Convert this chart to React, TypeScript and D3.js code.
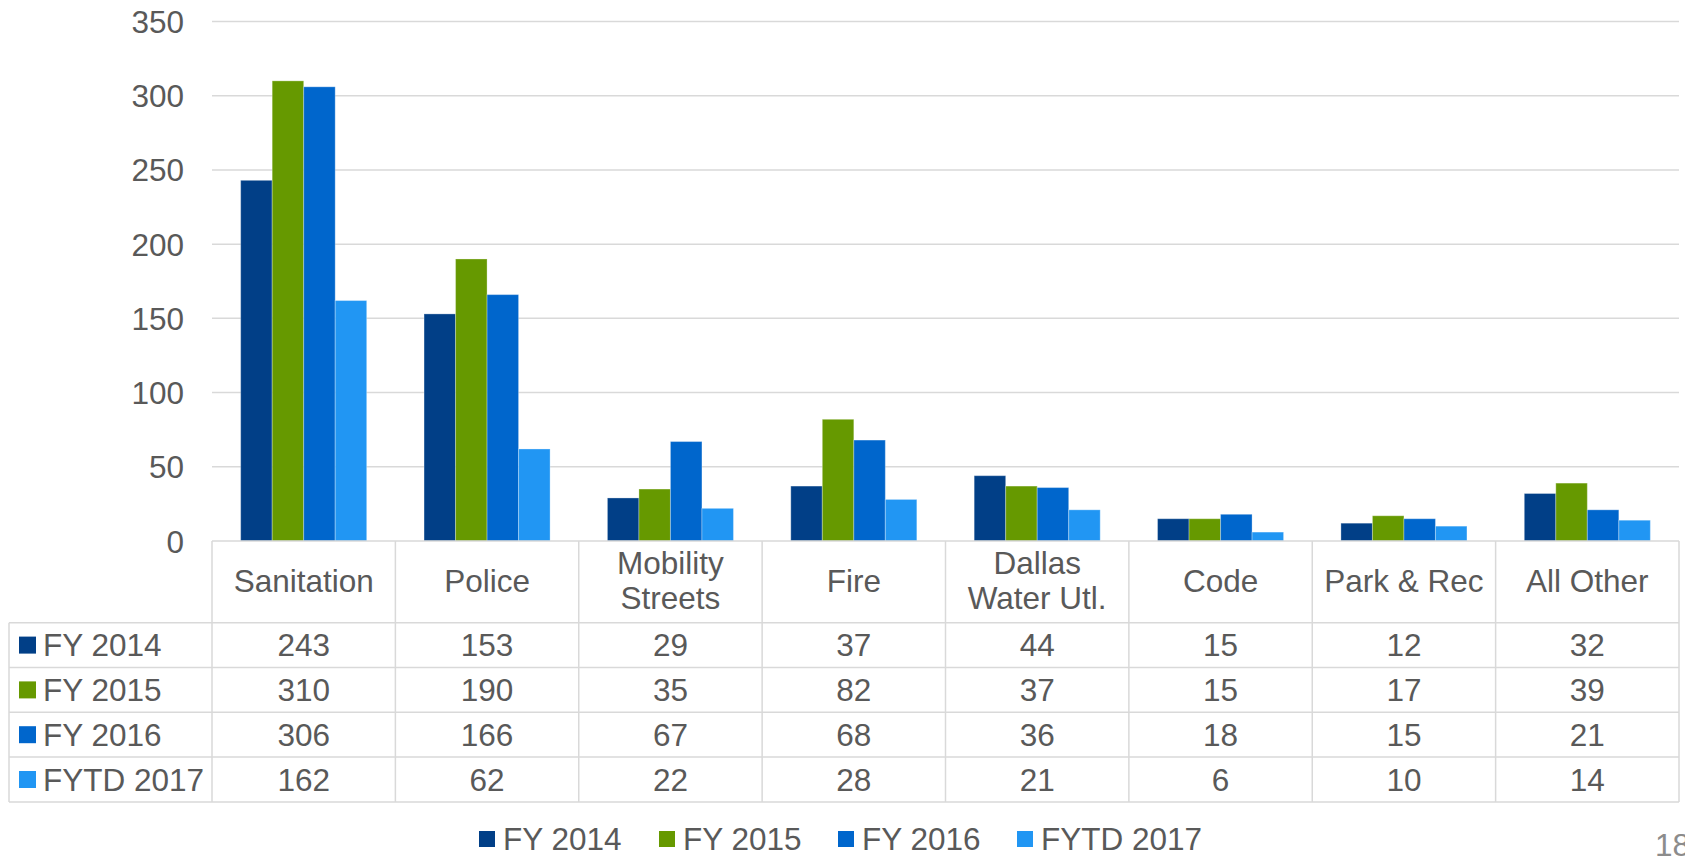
import * as d3 from 'd3'
import React from 'react'

const categories = [['Sanitation'], ['Police'], ['Mobility', 'Streets'], ['Fire'], ['Dallas', 'Water Utl.'], ['Code'], ['Park & Rec'], ['All Other']]
const seriesNames = ['FY 2014', 'FY 2015', 'FY 2016', 'FYTD 2017']
const fy2014 = [243, 153, 29, 37, 44, 15, 12, 32]
const fy2015 = [310, 190, 35, 82, 37, 15, 17, 39]
const fy2016 = [306, 166, 67, 68, 36, 18, 15, 21]
const fytd2017 = [162, 62, 22, 28, 21, 6, 10, 14]
const yTicks = [0, 50, 100, 150, 200, 250, 300, 350]
const colors = ['#013f87', '#669900', '#0066cc', '#2196f3']

const series = [fy2014, fy2015, fy2016, fytd2017]

const App = () => {
  const W = 1685
  const H = 856
  const left = 212
  const right = 1679
  const top = 21.5
  const base = 541
  const headerBottom = 622.7
  const rowH = 44.8
  const tableLeft = 9
  const fs = 31.5
  const text = '#595959'
  const grid = '#d9d9d9'
  const font = '"Liberation Sans", Arial, sans-serif'

  const x0 = d3.scaleBand<number>().domain(d3.range(categories.length)).range([left, right]).paddingInner(0).paddingOuter(0)
  // four bars per category, about 29px of empty space on each side
  const x1 = d3
    .scaleBand<number>()
    .domain(d3.range(series.length))
    .range([0, x0.bandwidth()])
    .paddingOuter(0.91)
    .paddingInner(0)
  const y = d3.scaleLinear().domain([0, 350]).range([base, top])

  const tableBottom = headerBottom + rowH * series.length

  // legend positions along the bottom
  const legendX = [479, 659, 838, 1017]

  return (
    <svg width={W} height={H} style={{ position: 'absolute', left: 0, top: 0, background: '#fff' }} fontFamily={font}>
      {/* horizontal grid */}
      {yTicks.slice(1).map((t) => (
        <line key={t} x1={left} x2={right} y1={y(t)} y2={y(t)} stroke={grid} strokeWidth={1.5} />
      ))}
      {yTicks.map((t) => (
        <text key={'t' + t} x={184} y={y(t) + 11.5} textAnchor="end" fontSize={fs} fill={text}>
          {t}
        </text>
      ))}

      {/* bars */}
      {categories.map((c, i) => (
        <g key={i} transform={`translate(${x0(i)},0)`}>
          {series.map((s, j) => (
            <rect
              key={j}
              x={x1(j)}
              y={y(s[i])}
              width={x1.bandwidth()}
              height={base - y(s[i])}
              fill={colors[j]}
              stroke="#ffffff"
              strokeOpacity={0.3}
              strokeWidth={1}
            />
          ))}
        </g>
      ))}

      {/* data table */}
      <g stroke={grid} strokeWidth={1.5} fill="none">
        <line x1={left} x2={right} y1={base} y2={base} />
        {series.map((s, j) => (
          <line key={j} x1={tableLeft} x2={right} y1={headerBottom + rowH * j} y2={headerBottom + rowH * j} />
        ))}
        <line x1={tableLeft} x2={right} y1={tableBottom} y2={tableBottom} />
        <line x1={tableLeft} x2={tableLeft} y1={headerBottom} y2={tableBottom} />
        {d3.range(categories.length + 1).map((i) => {
          const xx = i === categories.length ? right : (x0(i) as number)
          return <line key={'v' + i} x1={xx} x2={xx} y1={base} y2={tableBottom} />
        })}
      </g>

      {/* header labels */}
      {categories.map((c, i) => {
        const cx = (x0(i) as number) + x0.bandwidth() / 2
        const mid = (base + headerBottom) / 2
        return c.length === 1 ? (
          <text key={'h' + i} x={cx} y={mid + 10} textAnchor="middle" fontSize={fs} fill={text}>
            {c[0]}
          </text>
        ) : (
          <text key={'h' + i} x={cx} y={mid - 8} textAnchor="middle" fontSize={fs} fill={text}>
            <tspan x={cx}>{c[0]}</tspan>
            <tspan x={cx} dy={35}>
              {c[1]}
            </tspan>
          </text>
        )
      })}

      {/* rows */}
      {series.map((s, j) => {
        const ry = headerBottom + rowH * j + rowH / 2
        return (
          <g key={'r' + j}>
            <rect x={19} y={ry - 8.5} width={17} height={17} fill={colors[j]} />
            <text x={43} y={ry + 11} fontSize={fs} fill={text}>
              {seriesNames[j]}
            </text>
            {s.map((v, i) => (
              <text key={i} x={(x0(i) as number) + x0.bandwidth() / 2} y={ry + 11} textAnchor="middle" fontSize={fs} fill={text}>
                {v}
              </text>
            ))}
          </g>
        )
      })}

      {/* bottom legend */}
      {seriesNames.map((n, j) => (
        <g key={'l' + j}>
          <rect x={legendX[j]} y={831} width={16} height={16} fill={colors[j]} />
          <text x={legendX[j] + 24} y={850} fontSize={fs} fill={text}>
            {n}
          </text>
        </g>
      ))}

      <text x={1655} y={856} fontSize={fs} fill="#8c8c8c">
        18
      </text>
    </svg>
  )
}

export default App
